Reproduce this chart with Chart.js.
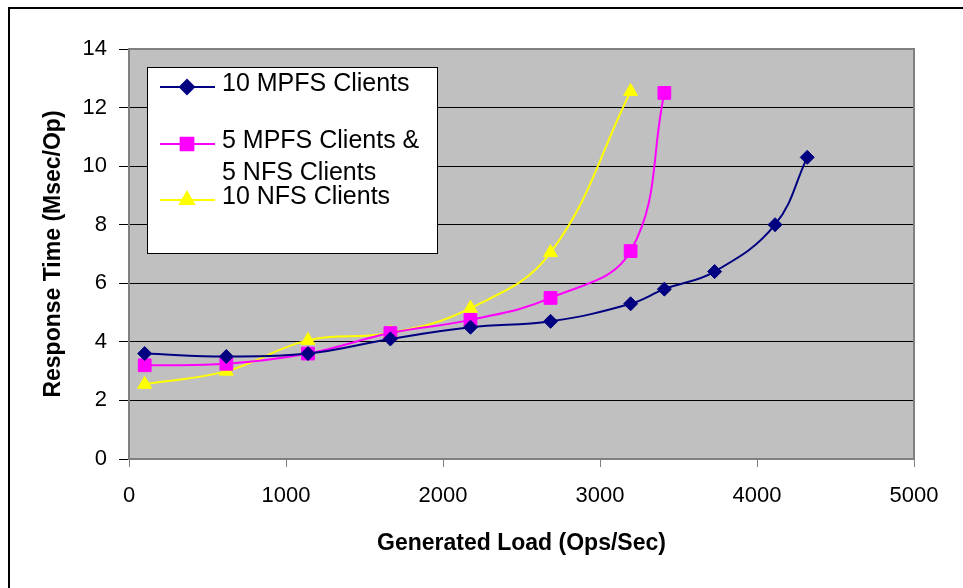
<!DOCTYPE html>
<html lang="en">
<head>
    <meta charset="UTF-8">
    <title>Response Time vs Generated Load</title>
    <script src="https://cdn.jsdelivr.net/npm/chart.js"></script>
    <style>
        body {
            margin: 0;
            background: #fff;
        }
        #chart-container {
            position: relative;
            width: 963px;
            height: 588px;
        }
    </style>
</head>
<body>

    <div id="chart-container">
        <canvas id="loadChart"></canvas>
    </div>

    <script>
        // generated load (ops/sec) and response time (msec/op) per configuration
        const mpfsLoad = [100, 620, 1140, 1665, 2175, 2685, 3195, 3410, 3730, 4115, 4320];
        const mpfsTime = [3.6, 3.5, 3.6, 4.1, 4.5, 4.7, 5.3, 5.8, 6.4, 8.0, 10.3];

        const mixedLoad = [100, 620, 1140, 1665, 2175, 2685, 3195, 3410];
        const mixedTime = [3.2, 3.25, 3.6, 4.3, 4.75, 5.5, 7.1, 12.5];

        const nfsLoad = [100, 620, 1140, 1665, 2175, 2685, 3195];
        const nfsTime = [2.55, 3.0, 4.05, 4.3, 5.15, 7.05, 12.55];

        const xTicks = [0, 1000, 2000, 3000, 4000, 5000];
        const yTicks = [0, 2, 4, 6, 8, 10, 12, 14];

        const toPoints = (xs, ys) => xs.map((x, i) => ({ x: x, y: ys[i] }));

        // grey plot background, outer frame and plot border
        const frame = {
            id: 'frame',
            beforeDraw(chart) {
                const { ctx, chartArea: a } = chart;
                ctx.save();
                ctx.fillStyle = '#fff';
                ctx.fillRect(0, 0, chart.width, chart.height);
                ctx.fillStyle = '#c0c0c0';
                ctx.fillRect(a.left, a.top, a.right - a.left, a.bottom - a.top);
                ctx.strokeStyle = '#000';
                ctx.lineWidth = 2;
                ctx.beginPath();
                ctx.moveTo(9, chart.height);
                ctx.lineTo(9, 8);
                ctx.lineTo(chart.width, 8);
                ctx.stroke();
                ctx.restore();
            },
            afterDraw(chart) {
                const { ctx, chartArea: a } = chart;
                ctx.save();
                ctx.strokeStyle = '#808080';
                ctx.lineWidth = 2;
                ctx.beginPath();
                ctx.moveTo(a.left, a.top);
                ctx.lineTo(a.right, a.top);
                ctx.lineTo(a.right, a.bottom);
                ctx.stroke();
                ctx.restore();
            }
        };

        // boxed legend inside the plot, supports two-line labels
        const boxLegend = {
            id: 'boxLegend',
            afterDatasetsDraw(chart) {
                const { ctx } = chart;
                const box = { x: 147, y: 67, w: 290, h: 186 };
                const rowY = [84, 141, 197];
                const lineGap = 32;
                ctx.save();
                ctx.fillStyle = '#fff';
                ctx.fillRect(box.x, box.y, box.w, box.h);
                ctx.strokeStyle = '#000';
                ctx.lineWidth = 1;
                ctx.strokeRect(box.x + 0.5, box.y + 0.5, box.w, box.h);

                ctx.font = '25px "Liberation Sans", Arial, sans-serif';
                ctx.textBaseline = 'middle';
                ctx.textAlign = 'left';
                chart.data.datasets.forEach((ds, i) => {
                    const y = rowY[i];
                    ctx.strokeStyle = ds.borderColor;
                    ctx.lineWidth = 2;
                    ctx.beginPath();
                    ctx.moveTo(160, y + 3);
                    ctx.lineTo(215, y + 3);
                    ctx.stroke();
                    Chart.helpers.drawPoint(ctx, {
                        pointStyle: ds.pointStyle,
                        radius: ds.pointRadius,
                        borderWidth: 1,
                        rotation: 0
                    }, 187, y + 3);
                    ctx.fillStyle = ds.pointBackgroundColor;
                    ctx.fill();
                    ctx.fillStyle = '#000';
                    const lines = Array.isArray(ds.label) ? ds.label : [ds.label];
                    lines.forEach((t, j) => ctx.fillText(t, 222, y + j * lineGap));
                });
                ctx.restore();
            }
        };

        const ctx = document.getElementById('loadChart').getContext('2d');

        const common = {
            borderWidth: 2,
            tension: 0.4,
            pointBorderWidth: 1,
            fill: false
        };

        new Chart(ctx, {
            type: 'line',
            data: {
                datasets: [{
                    ...common,
                    label: '10 MPFS Clients',
                    data: toPoints(mpfsLoad, mpfsTime),
                    borderColor: '#000080',
                    pointBackgroundColor: '#000080',
                    pointBorderColor: '#000080',
                    pointStyle: 'rectRot',
                    pointRadius: 7
                }, {
                    ...common,
                    label: ['5 MPFS Clients &', '5 NFS Clients'],
                    data: toPoints(mixedLoad, mixedTime),
                    borderColor: '#ff00ff',
                    pointBackgroundColor: '#ff00ff',
                    pointBorderColor: '#ff00ff',
                    pointStyle: 'rect',
                    pointRadius: 9
                }, {
                    ...common,
                    label: '10 NFS Clients',
                    data: toPoints(nfsLoad, nfsTime),
                    borderColor: '#ffff00',
                    pointBackgroundColor: '#ffff00',
                    pointBorderColor: '#ffff00',
                    pointStyle: 'triangle',
                    pointRadius: 8
                }]
            },
            options: {
                responsive: true,
                maintainAspectRatio: false,
                animation: false,
                layout: {
                    padding: { top: 49, right: 49, left: 0, bottom: 0 }
                },
                scales: {
                    x: {
                        type: 'linear',
                        min: 0,
                        max: 5000,
                        afterFit(scale) { scale.height = 129; },
                        afterBuildTicks(scale) {
                            scale.ticks = xTicks.map(v => ({ value: v }));
                        },
                        ticks: {
                            color: '#000',
                            padding: 16,
                            maxRotation: 0,
                            callback: v => String(v),
                            font: { family: '"Liberation Sans", Arial, sans-serif', size: 22 }
                        },
                        grid: {
                            drawOnChartArea: false,
                            tickLength: 8,
                            tickColor: '#808080'
                        },
                        border: { color: '#808080', width: 2 },
                        title: {
                            display: true,
                            text: 'Generated Load (Ops/Sec)',
                            color: '#000',
                            padding: { top: 0, bottom: 31 },
                            font: { family: '"Liberation Sans", Arial, sans-serif', size: 23, weight: 'bold' }
                        }
                    },
                    y: {
                        min: 0,
                        max: 14,
                        afterFit(scale) { scale.width = 129; },
                        afterBuildTicks(scale) {
                            scale.ticks = yTicks.map(v => ({ value: v }));
                        },
                        ticks: {
                            color: '#000',
                            padding: 12,
                            font: { family: '"Liberation Sans", Arial, sans-serif', size: 22 }
                        },
                        grid: {
                            color: c => (c.tick && (c.tick.value === 0 || c.tick.value === 14)) ? 'rgba(0,0,0,0)' : '#000',
                            lineWidth: 1,
                            tickLength: 10,
                            tickColor: '#000'
                        },
                        border: { color: '#808080', width: 2 },
                        title: {
                            display: true,
                            text: 'Response Time (Msec/Op)',
                            color: '#000',
                            padding: { top: 40, bottom: 0 },
                            font: { family: '"Liberation Sans", Arial, sans-serif', size: 23, weight: 'bold' }
                        }
                    }
                },
                plugins: {
                    legend: { display: false },
                    tooltip: { enabled: false }
                }
            },
            plugins: [frame, boxLegend]
        });
    </script>

</body>
</html>
